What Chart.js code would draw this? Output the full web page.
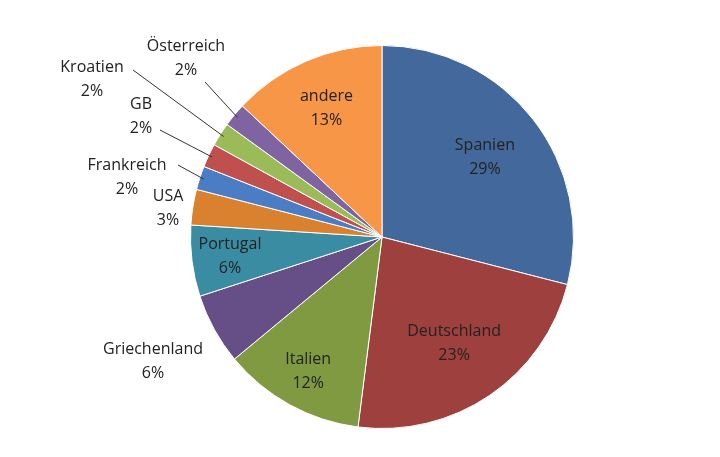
<!DOCTYPE html>
<html>
<head>
<meta charset="utf-8">
<script src="https://cdn.jsdelivr.net/npm/chart.js@4/dist/chart.umd.min.js"></script>
<style>
  body { margin: 0; background: #fff; }
  #wrap { width: 720px; height: 457px; }
</style>
</head>
<body>
<div id="wrap"><canvas id="pieChart"></canvas></div>
<script>
// Reiseziele (Anteile in %)
const labels = ["Spanien", "Deutschland", "Italien", "Griechenland", "Portugal", "USA",
  "Frankreich", "GB", "Kroatien", "Österreich", "andere"];
const shares = [29, 23, 12, 6, 6, 3, 2, 2, 2, 2, 13];
const colors = ["#43689B", "#9E403E", "#7F9A41", "#664F86", "#3A8CA3", "#D9812F",
  "#4A7DC3", "#C0504D", "#9BBB59", "#8064A2", "#F79646"];

// label placement: inside = fraction of radius, outside = fixed text anchor (+ optional leader line)
const labelPlace = [
  { r: 0.68 }, { r: 0.67 }, { r: 0.8 }, { x: 153, y: 361 }, { r: 0.8 },
  { x: 168, y: 208 },
  { x: 127, y: 177, line: [178, 165] },
  { x: 141, y: 116, line: [160, 130] },
  { x: 92, y: 79, line: [133, 70] },
  { x: 186, y: 58, line: [205, 82] },
  { r: 0.73 },
];

const pieLabels = {
  id: "pieLabels",
  afterDatasetsDraw(chart) {
    const ctx = chart.ctx;
    const meta = chart.getDatasetMeta(0);
    ctx.save();
    ctx.font = "16px 'Open Sans', sans-serif";
    ctx.fillStyle = "#222";
    ctx.textAlign = "center";
    ctx.textBaseline = "middle";
    meta.data.forEach((arc, i) => {
      const p = labelPlace[i];
      const mid = (arc.startAngle + arc.endAngle) / 2;
      let x, y;
      if (p.r !== undefined) {
        x = arc.x + Math.cos(mid) * arc.outerRadius * p.r;
        y = arc.y + Math.sin(mid) * arc.outerRadius * p.r;
      } else {
        x = p.x; y = p.y;
        if (p.line) {
          ctx.strokeStyle = "#333";
          ctx.lineWidth = 1;
          ctx.beginPath();
          ctx.moveTo(arc.x + Math.cos(mid) * (arc.outerRadius - 4), arc.y + Math.sin(mid) * (arc.outerRadius - 4));
          ctx.lineTo(p.line[0], p.line[1]);
          ctx.stroke();
        }
      }
      ctx.fillText(labels[i], x, y - 12);
      ctx.fillText(shares[i] + "%", x, y + 12);
    });
    ctx.restore();
  },
};

new Chart(document.getElementById("pieChart"), {
  type: "pie",
  data: {
    labels: labels,
    datasets: [{
      data: shares,
      backgroundColor: colors,
      borderColor: "#fff",
      borderWidth: 1,
    }],
  },
  options: {
    responsive: true,
    maintainAspectRatio: false,
    animation: false,
    layout: { padding: { left: 190, right: 146, top: 45, bottom: 28 } },
    plugins: {
      legend: { display: false },
      tooltip: { enabled: false },
    },
  },
  plugins: [pieLabels],
});
</script>
</body>
</html>
